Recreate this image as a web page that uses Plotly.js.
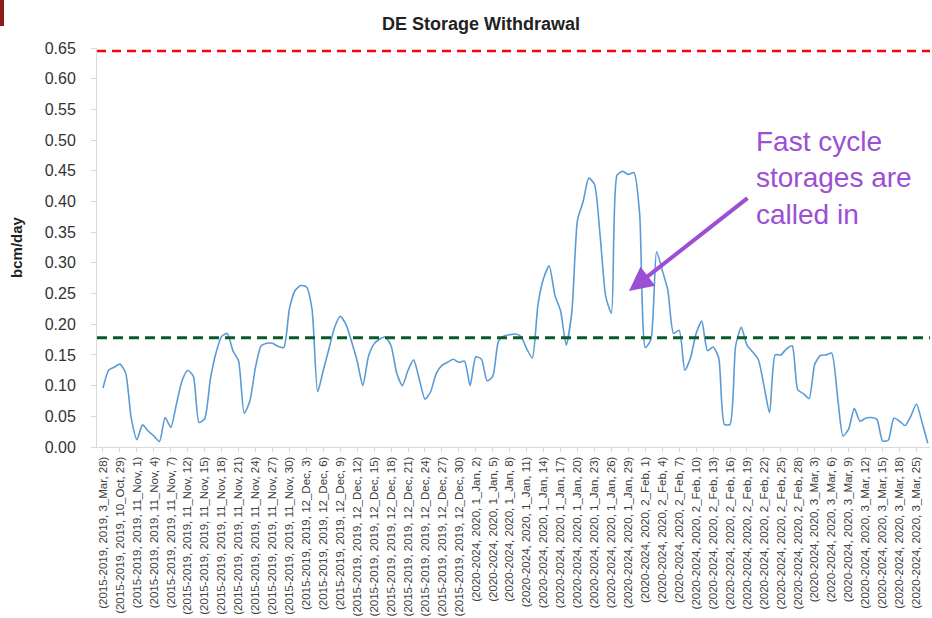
<!DOCTYPE html>
<html>
<head>
<meta charset="utf-8">
<script src="https://cdn.plot.ly/plotly-3.0.1.min.js"></script>
<style>
  html, body { margin: 0; padding: 0; background: #ffffff; }
  #chart { width: 932px; height: 618px; }
</style>
</head>
<body>
<div id="chart"></div>
<script>
// ---- Data ----
const periods = ["2015-2019", "2015-2019", "2015-2019", "2015-2019", "2020-2024", "2020-2024", "2020-2024"];
const years   = ["2019", "2019", "2019", "2019", "2020", "2020", "2020"];
const months  = ["3_Mar", "10_Oct", "11_Nov", "12_Dec", "1_Jan", "2_Feb", "3_Mar"];
const daysPerMonth = [
  [28, 29, 30],
  [29, 30, 31],
  [1, 2, 3, 4, 5, 6, 7, 8, 11, 12, 13, 14, 15, 16, 17, 18, 19, 20, 21, 22, 23, 24, 25, 26, 27, 28, 29, 30],
  [1, 2, 3, 4, 5, 6, 7, 8, 9, 10, 11, 12, 13, 14, 15, 16, 17, 18, 19, 20, 21, 22, 23, 24, 25, 26, 27, 28, 29, 30, 31],
  [1, 2, 3, 4, 5, 6, 7, 8, 9, 10, 11, 12, 13, 14, 15, 16, 17, 18, 19, 20, 21, 22, 23, 24, 25, 26, 27, 28, 29, 30, 31],
  [1, 2, 3, 4, 5, 6, 7, 8, 9, 10, 11, 12, 13, 14, 15, 16, 17, 18, 19, 20, 21, 22, 23, 24, 25, 26, 27, 28],
  [1, 2, 3, 4, 5, 6, 7, 8, 9, 10, 11, 12, 13, 14, 15, 16, 17, 18, 20, 22, 25, 26, 27]
];

const withdrawal = [
  0.096, 0.125, 0.130, 0.135, 0.121, 0.047, 0.012, 0.036, 0.026, 0.018,
  0.009, 0.048, 0.032, 0.070, 0.108, 0.125, 0.115, 0.040, 0.046, 0.110,
  0.153, 0.180, 0.185, 0.157, 0.140, 0.055, 0.075, 0.130, 0.165, 0.169,
  0.169, 0.164, 0.162, 0.225, 0.255, 0.263, 0.261, 0.225, 0.090, 0.125,
  0.160, 0.195, 0.213, 0.200, 0.172, 0.140, 0.100, 0.148, 0.168, 0.176,
  0.179, 0.165, 0.120, 0.100, 0.125, 0.142, 0.110, 0.078, 0.090, 0.120,
  0.133, 0.138, 0.143, 0.138, 0.140, 0.100, 0.147, 0.143, 0.108, 0.115,
  0.172, 0.181, 0.183, 0.184, 0.180, 0.160, 0.145, 0.232, 0.275, 0.295,
  0.247, 0.222, 0.166, 0.220, 0.370, 0.400, 0.438, 0.428, 0.345, 0.245,
  0.218, 0.443, 0.449, 0.444, 0.447, 0.380, 0.162, 0.175, 0.318, 0.288,
  0.255, 0.185, 0.190, 0.125, 0.145, 0.185, 0.205, 0.157, 0.163, 0.145,
  0.037, 0.037, 0.165, 0.195, 0.166, 0.155, 0.143, 0.100, 0.056, 0.150,
  0.150, 0.160, 0.165, 0.093, 0.087, 0.079, 0.135, 0.149, 0.150, 0.153,
  0.085, 0.018, 0.029, 0.063, 0.042, 0.047, 0.048, 0.045, 0.010, 0.011,
  0.047, 0.042, 0.035, 0.050, 0.070, 0.040, 0.006
];

const maxCapacity = 0.645;   // red dashed line
const referenceLevel = 0.178; // green dashed line
const yTicks = [0, 0.05, 0.10, 0.15, 0.20, 0.25, 0.30, 0.35, 0.40, 0.45, 0.50, 0.55, 0.60, 0.65];

// ---- Build categories ----
const categories = [];
months.forEach((m, gi) => {
  daysPerMonth[gi].forEach(d => {
    categories.push("(" + periods[gi] + ", " + years[gi] + ", " + m + ", " + d + ")");
  });
});
const tickCats = categories.filter((c, i) => i % 3 === 0);

// ---- Layout geometry ----
const W = 932, H = 618;
const M = { l: 97, r: 2, t: 48, b: 171 };
const pw = W - M.l - M.r, ph = H - M.t - M.b;
const px = x => (x - M.l) / pw;
const py = y => (H - M.b - y) / ph;

const trace = {
  x: categories,
  y: withdrawal,
  type: "scatter",
  mode: "lines",
  line: { color: "#5b9bd5", width: 1.6, shape: "spline", smoothing: 0.6 },
  hoverinfo: "x+y",
  showlegend: false
};

const purple = "#9b4fd4";

const layout = {
  width: W, height: H,
  margin: M,
  paper_bgcolor: "#ffffff",
  plot_bgcolor: "#ffffff",
  font: { family: "Liberation Sans, Arial, sans-serif", color: "#404040" },
  title: {
    text: "<b>DE Storage Withdrawal</b>",
    font: { size: 18, color: "#222222", family: "Liberation Sans, Arial, sans-serif" },
    xref: "container", x: 481 / W, xanchor: "center",
    yref: "container", y: 1 - 24 / H, yanchor: "middle"
  },
  xaxis: {
    type: "category",
    range: [-1.06, categories.length - 0.6],
    tickmode: "array",
    tickvals: tickCats,
    ticktext: tickCats,
    tickangle: -90,
    tickfont: { size: 11.5, color: "#404040" },
    showgrid: false,
    zeroline: false,
    showline: true,
    linecolor: "#d9d9d9",
    linewidth: 1,
    ticks: "outside",
    ticklen: 4,
    tickcolor: "#d9d9d9",
    fixedrange: true
  },
  yaxis: {
    range: [0, 0.65],
    tickmode: "array",
    tickvals: yTicks,
    tickformat: ".2f",
    tickfont: { size: 16, color: "#333333" },
    showgrid: false,
    zeroline: false,
    showline: true,
    linecolor: "#d9d9d9",
    linewidth: 1,
    ticks: "outside",
    ticklen: 5,
    tickcolor: "#d9d9d9",
    ticklabelstandoff: 12,
    title: {
      text: "<b>bcm/day</b>",
      font: { size: 15, color: "#222222" },
      standoff: 18
    },
    fixedrange: true
  },
  shapes: [
    {
      type: "line", xref: "paper", yref: "y",
      x0: 0, x1: 1, y0: maxCapacity, y1: maxCapacity,
      line: { color: "#ff0000", width: 2.5, dash: "9px,6px" }
    },
    {
      type: "line", xref: "paper", yref: "y",
      x0: 0, x1: 1, y0: referenceLevel, y1: referenceLevel,
      line: { color: "#0b5a2a", width: 3, dash: "10px,6px" }
    },
    {
      type: "rect", xref: "paper", yref: "paper",
      x0: px(0), x1: px(4), y0: py(26), y1: py(0),
      fillcolor: "#8b1c1c", line: { width: 0 }
    }
  ],
  annotations: [
    {
      xref: "paper", yref: "paper",
      x: px(754), y: py(178),
      xanchor: "left", yanchor: "middle",
      align: "left",
      text: "Fast cycle<br>storages are<br>called in",
      showarrow: false,
      font: { size: 28, color: purple, family: "Liberation Sans, Arial, sans-serif" }
    },
    {
      xref: "paper", yref: "paper",
      x: px(629), y: py(291),
      ax: 120, ay: -94,
      text: "",
      showarrow: true,
      arrowhead: 2,
      arrowsize: 1.2,
      arrowwidth: 4,
      arrowcolor: purple
    }
  ]
};

Plotly.newPlot("chart", [trace], layout, { displayModeBar: false, staticPlot: true });
</script>
</body>
</html>
